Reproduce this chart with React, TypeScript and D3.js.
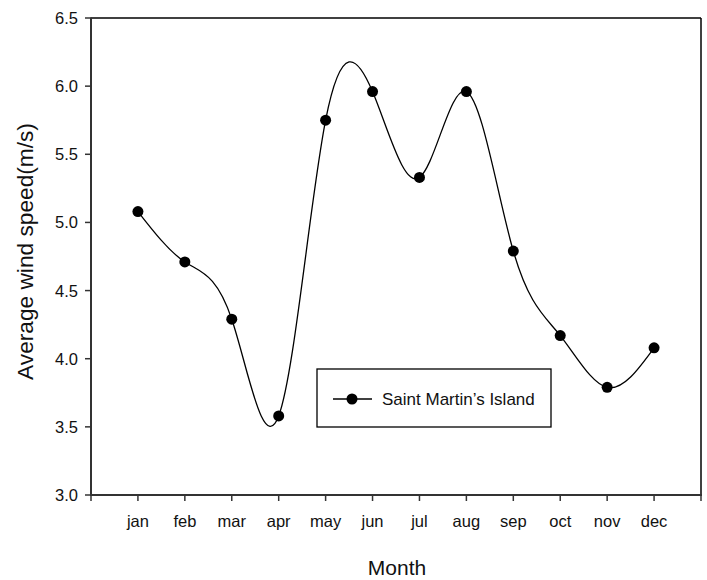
import React from "react";
import * as d3 from "d3";

const months = ["jan", "feb", "mar", "apr", "may", "jun", "jul", "aug", "sep", "oct", "nov", "dec"];
const windSpeed = [5.08, 4.71, 4.29, 3.58, 5.75, 5.96, 5.33, 5.96, 4.79, 4.17, 3.79, 4.08];
const yTicks = [3.0, 3.5, 4.0, 4.5, 5.0, 5.5, 6.0, 6.5];
const xTickPositions = d3.range(0, 14);
const seriesName = "Saint Martin\u2019s Island";

const W = 707;
const H = 580;
const left = 91;
const right = 701;
const top = 18;
const bottom = 495;
const font = "Arial, 'Liberation Sans', sans-serif";

export default function App() {
  const x = d3.scaleLinear().domain([0, 13]).range([left, right]);
  const y = d3.scaleLinear().domain([3, 6.5]).range([bottom, top]);
  const pts: [number, number][] = windSpeed.map((v, i) => [x(i + 1), y(v)]);
  const line = d3.line().curve(d3.curveNatural)(pts) || "";

  return (
    <svg width={W} height={H} style={{ position: "absolute", left: 0, top: 0, background: "#fff" }}>
      <rect x={0} y={0} width={W} height={H} fill="#fff" />
      {/* frame */}
      <line x1={left} x2={right} y1={top} y2={top} stroke="#000" strokeWidth={1.5} />
      <line x1={right} x2={right} y1={top} y2={bottom} stroke="#000" strokeWidth={1.5} />
      <line x1={left} x2={left} y1={top - 0.5} y2={bottom + 1} stroke="#333" strokeWidth={2} />
      <line x1={left - 1} x2={right + 1} y1={bottom} y2={bottom} stroke="#333" strokeWidth={2} />
      {/* y ticks */}
      {yTicks.map((t) => (
        <g key={t}>
          <line x1={left - 6} x2={left} y1={y(t)} y2={y(t)} stroke="#333" strokeWidth={1.5} />
          <text x={left - 13} y={y(t)} dy="0.36em" textAnchor="end" fontFamily={font} fontSize={16.5} fill="#111">
            {t.toFixed(1)}
          </text>
        </g>
      ))}
      {/* x ticks */}
      {xTickPositions.map((p) => (
        <line key={p} x1={x(p)} x2={x(p)} y1={bottom} y2={bottom + 6} stroke="#333" strokeWidth={1.5} />
      ))}
      {months.map((m, i) => (
        <text key={m} x={x(i + 1)} y={527} textAnchor="middle" fontFamily={font} fontSize={16.5} fill="#111">
          {m}
        </text>
      ))}
      {/* axis titles */}
      <text x={397} y={575} textAnchor="middle" fontFamily={font} fontSize={21} fill="#111">
        Month
      </text>
      <text
        transform={`translate(33, 251.5) rotate(-90)`}
        textAnchor="middle"
        fontFamily={font}
        fontSize={22.7}
        fill="#111"
      >
        Average wind speed(m/s)
      </text>
      {/* series */}
      <path d={line} fill="none" stroke="#000" strokeWidth={1.3} />
      {pts.map(([px, py], i) => (
        <circle key={i} cx={px} cy={py} r={5.5} fill="#000" />
      ))}
      {/* legend */}
      <rect x={317} y={369} width={234} height={58} fill="#fff" stroke="#000" strokeWidth={1.3} />
      <line x1={333} x2={372} y1={399} y2={399} stroke="#000" strokeWidth={1.3} />
      <circle cx={352} cy={399} r={5.5} fill="#000" />
      <text x={382} y={399} dy="0.36em" fontFamily={font} fontSize={17} fill="#111">
        {seriesName}
      </text>
    </svg>
  );
}
